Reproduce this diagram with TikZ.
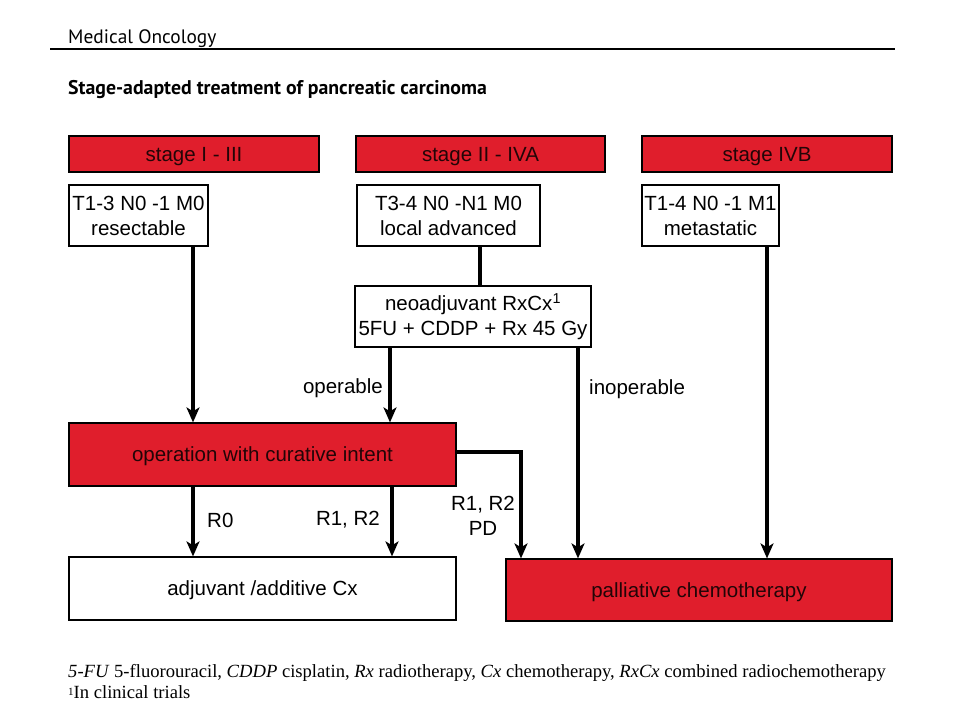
\documentclass[tikz,border=0pt]{standalone}
\usepackage{fontspec}
\setmainfont{Liberation Sans}
\newfontfamily\headfont{PT Sans}
\newfontfamily\footfont{Liberation Serif}
\usetikzlibrary{arrows.meta}
\definecolor{boxred}{RGB}{224,30,44}
\tikzset{
  box/.style={draw=black,line width=1.2pt,inner sep=0pt,align=center,font=\fontsize{20.5}{25}\selectfont,text=black},
  redbox/.style={box,fill=boxred,text=black!85!boxred},
  onerow/.style={text depth=0pt},
  stagebox/.style={redbox,onerow,minimum height=36pt},
  conn/.style={line width=4pt},
  arr/.style={conn,-{Stealth[length=15pt,width=13pt,inset=4pt]}},
  lbl/.style={font=\fontsize{20.5}{25}\selectfont,inner sep=0pt,align=center},
}
\begin{document}
\begin{tikzpicture}[x=1pt,y=-1pt]
\useasboundingbox (0,0) rectangle (960,720);
% header
\node[anchor=base west,inner sep=0pt,font=\headfont\fontsize{19.4}{22}\selectfont] (hdr) at (68,43) {Medical Oncology};
\coordinate (rl) at (50,49);
\coordinate (rr) at (895,49);
\draw[line width=1.3pt] (rl) -- (rr);
\node[anchor=base west,inner sep=0pt,font=\headfont\bfseries\fontsize{19.8}{22}\selectfont] (ttl) at (68,94) {Stage-adapted treatment of pancreatic carcinoma};
% stage boxes
\node[stagebox,minimum width=250pt] (s1) at (194,154) {stage I - III};
\node[stagebox,minimum width=249pt] (s2) at (480.5,154) {stage II - IVA};
\node[stagebox,minimum width=250pt] (s3) at (767,154) {stage IVB};
% TNM boxes
\node[box,minimum width=139pt,minimum height=61pt] (t1) at (138.5,215.5) {T1-3 N0 -1 M0\\resectable};
\node[box,minimum width=183pt,minimum height=61pt] (t2) at (448.5,215.5) {T3-4 N0 -N1 M0\\local advanced};
\node[box,minimum width=137pt,minimum height=61pt] (t3) at (710.5,215.5) {T1-4 N0 -1 M1\\metastatic};
% neoadjuvant
\node[box,minimum width=236pt,minimum height=61pt] (neo) at (473,316.5) {neoadjuvant RxCx\textsuperscript{1}\\5FU + CDDP + Rx 45 Gy};
% operation
\node[redbox,onerow,minimum width=387pt,minimum height=63pt] (op) at (262.5,454.5) {operation with curative intent};
% results
\node[box,onerow,minimum width=387pt,minimum height=63pt] (adj) at (262.5,588.5) {adjuvant /additive Cx};
\node[redbox,onerow,minimum width=386pt,minimum height=62pt] (pal) at (699,590) {palliative chemotherapy};
% column coordinates
\coordinate (xa) at (193,0);
\coordinate (xb) at (390,0);
\coordinate (xc) at (392,0);
\coordinate (xd) at (480,0);
\coordinate (xe) at (578,0);
\coordinate (xf) at (767,0);
\coordinate (xg) at (521,0);
\coordinate (yk) at (0,452);
% connectors
\draw[arr] (t1.south -| xa) -- (op.north -| xa);
\draw[conn] (t2.south -| xd) -- (neo.north -| xd);
\draw[arr] (neo.south -| xb) -- (op.north -| xb);
\draw[arr] (neo.south -| xe) -- (pal.north -| xe);
\draw[arr] (t3.south -| xf) -- (pal.north -| xf);
\draw[arr] (op.south -| xa) -- (adj.north -| xa);
\draw[arr] (op.south -| xc) -- (adj.north -| xc);
\draw[arr] (op.east |- yk) -- (xg |- yk) -- (pal.north -| xg);
% labels
\node[lbl,anchor=east] (lop) at (383,388) {operable};
\node[lbl,anchor=west] (linop) at (589,389) {inoperable};
\node[lbl,anchor=west] (lr0) at (207,520) {R0};
\node[lbl,anchor=east] (lr12) at (380,520) {R1, R2};
\node[lbl,anchor=center] (lpd) at (483,516) {R1, R2\\PD};
% footer
\node[anchor=base west,inner sep=0pt,font=\footfont\fontsize{18.6}{21}\selectfont] (fn1) at (68,677) {\textit{5-FU} 5-fluorouracil, \textit{CDDP} cisplatin, \textit{Rx} radiotherapy, \textit{Cx} chemotherapy, \textit{RxCx} combined radiochemotherapy};
\node[anchor=base west,inner sep=0pt,font=\footfont\fontsize{18.6}{21}\selectfont] (fn2) at (68,698) {\raisebox{3pt}{\fontsize{11}{12}\selectfont 1}In clinical trials};
\end{tikzpicture}
\end{document}
